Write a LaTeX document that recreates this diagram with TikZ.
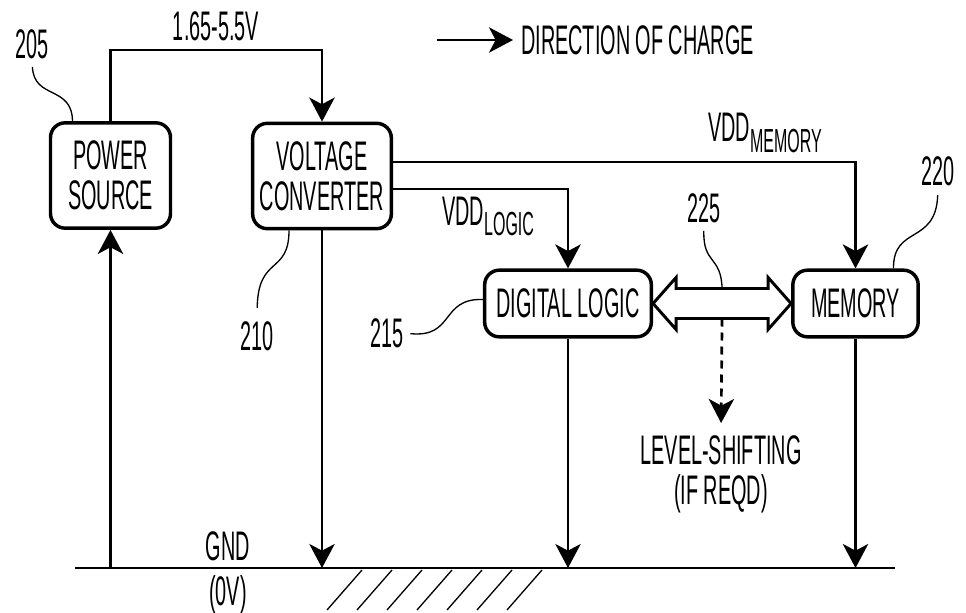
\documentclass[tikz,border=0pt]{standalone}
\usepackage{fontspec}
\setmainfont{Liberation Sans}[FakeStretch=0.48]
\usetikzlibrary{arrows.meta,calc}
\newcommand{\vddsub}[1]{\raisebox{-8pt}{\fontsize{25}{28}\selectfont #1}}

\begin{document}
\begin{tikzpicture}[x=0.75pt,y=0.75pt,yscale=-1,xscale=1,
  font=\fontsize{31}{30}\selectfont,
  blk/.style={draw,line width=2.6pt,rounded corners=11pt,align=center,inner sep=0pt},
  wire/.style={line width=2pt},
  flow/.style={wire,-{Stealth[length=18pt,width=19pt,inset=5pt]}},
  lead/.style={line width=1pt},
  lbl/.style={inner sep=0pt},
  bus/.style={line width=2.2pt,line join=miter}]
\useasboundingbox (0,0) rectangle (966,613);

%Blocks
\node[blk,minimum width=90pt,minimum height=79pt] (ps) at (110.5,175.5) {POWER\\SOURCE};
\node[blk,minimum width=104pt,minimum height=79pt] (vc) at (322,176) {VOLTAGE\\CONVERTER};
\node[blk,minimum width=125pt,minimum height=50pt] (dl) at (568,303.5) {DIGITAL LOGIC};
\node[blk,minimum width=94pt,minimum height=50pt] (mem) at (855.5,303.5) {MEMORY};

%Rails
\coordinate (top) at (0,50);
\coordinate (vm) at (0,162);
\coordinate (vl) at (0,189);
\coordinate (gl) at (75,568);
\coordinate (gr) at (895,568);

% supply and converter outputs
\draw[flow] (ps.north) -- (ps.north |- top) -| (vc.north);
\draw[flow] (vc.east |- vm) -| (mem.north);
\draw[flow] (vc.east |- vl) -| (dl.north);

% ground
\draw[wire] (gl) -- (gr);
\draw[flow] (ps.south |- gl) -- (ps.south);
\draw[flow] (vc.south) -- (vc.south |- gl);
\draw[flow] (dl.south) -- (dl.south |- gl);
\draw[flow] (mem.south) -- (mem.south |- gl);
\foreach \k in {0,...,6}
  \draw[lead] ({362+30*\k},570) -- ++(-35,40);

% logic <-> memory bus
\draw[bus] (dl.east) -- ++(23,-26) -- ++(0,11) -- ($(mem.west)+(-23,-15)$) -- ++(0,-11) -- (mem.west)
  -- ++(-23,26) -- ++(0,-11) -- ($(dl.east)+(23,15)$) -- ++(0,11) -- cycle;
\coordinate (bustop) at ($(dl.east)!0.5!(mem.west)+(0,-15)$);
\coordinate (busbot) at ($(dl.east)!0.5!(mem.west)+(0,15)$);
\node[lbl,anchor=north,align=center] (lvl) at (721,435) {LEVEL-SHIFTING\\(IF REQD)};
\draw[flow,dash pattern=on 6pt off 4.5pt,shorten >=9pt] (busbot) -- (lvl.north);

% Text Node
\node[lbl] (volt) at (216,26) {1.65-5.5V};
\node[lbl,anchor=west] (lgtxt) at (521,40) {DIRECTION OF CHARGE};
\coordinate (lg) at (437,40);
\draw[flow,shorten >=6pt] (lg) -- (lgtxt.west);
\node[lbl,anchor=base west] (vddm) at (708,142) {VDD\vddsub{MEMORY}};
\node[lbl,anchor=base west] (vddl) at (442,225) {VDD\vddsub{LOGIC}};
\node[lbl] (gnd) at (228,546) {GND};
\node[lbl] (zv) at (228,595) {(0V)};

% reference numerals
\node[lbl] (l205) at (32,44) {205};
\node[lbl] (l210) at (257,336) {210};
\node[lbl] (l215) at (387,333) {215};
\node[lbl] (l220) at (938,171) {220};
\node[lbl] (l225) at (704,208) {225};
\draw[lead,shorten <=6pt] (l205.south) .. controls (34,100) and (72,85) .. ($(ps.north)+(-38,0)$);
\draw[lead,shorten >=10pt] ($(vc.south)+(-33,0)$) .. controls (289,275) and (258,255) .. (l210.north);
\draw[lead,shorten <=5pt] (l215.east) .. controls (455,338) and (440,298) .. ($(dl.west)+(0,-4)$);
\draw[lead,shorten <=7pt] (l220.south) .. controls (936,245) and (893,225) .. ($(mem.north)+(38,0)$);
\draw[lead,shorten <=6pt] (l225.south) .. controls (703,265) and (721,255) .. (bustop);

\end{tikzpicture}
\end{document}
